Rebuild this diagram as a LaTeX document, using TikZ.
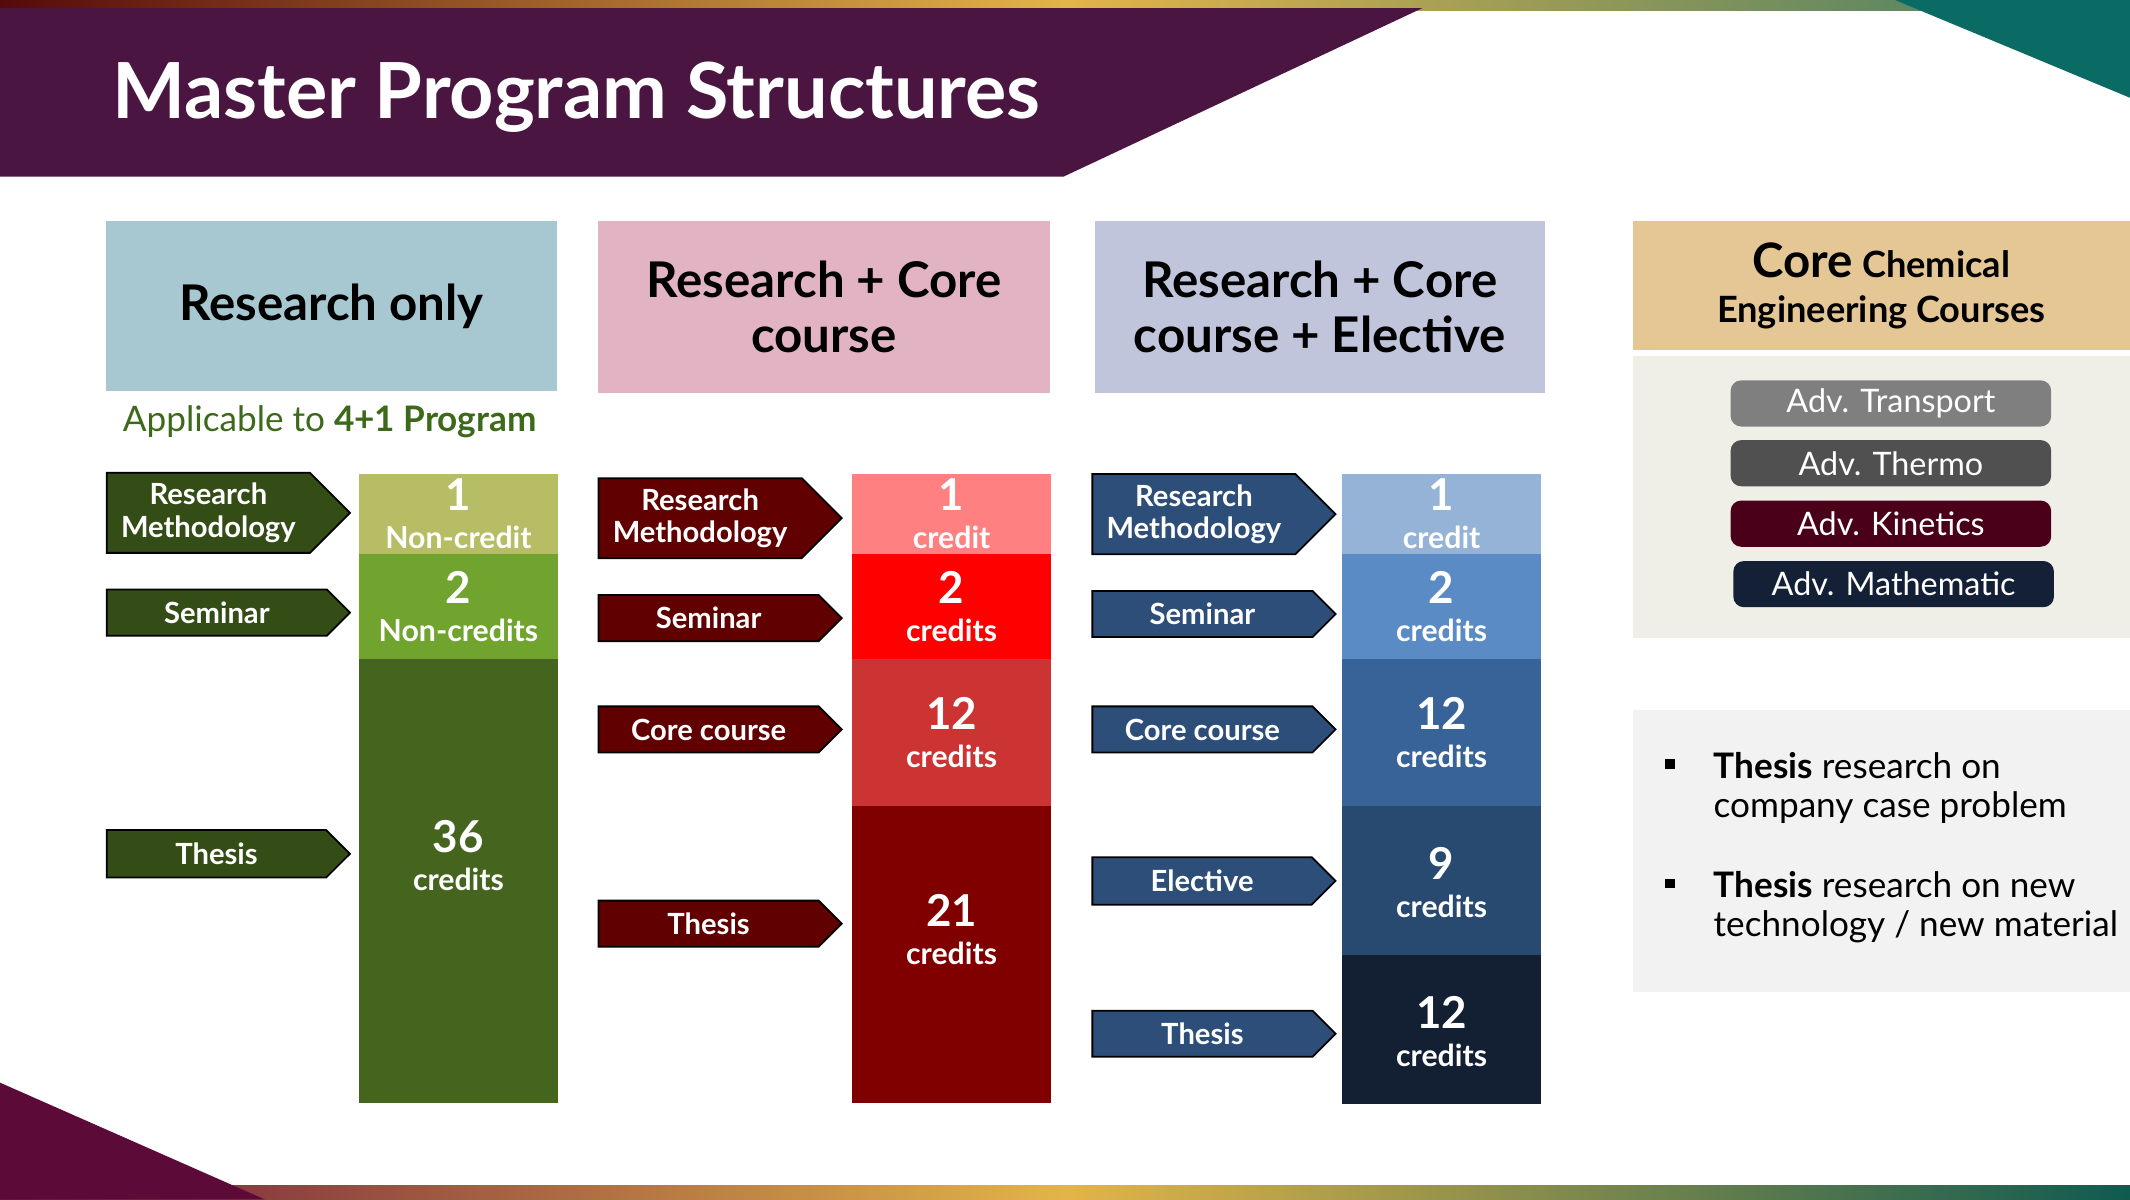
\documentclass[tikz,border=0pt]{standalone}
\usepackage{fontspec}
\setmainfont{Lato}
\usetikzlibrary{shapes.symbols}

\definecolor{topL}{HTML}{560A0A}
\definecolor{topM}{HTML}{E3B449}
\definecolor{topR}{HTML}{3E7C68}
\definecolor{botL}{HTML}{6E1A3C}
\definecolor{botM}{HTML}{E3B449}
\definecolor{botR}{HTML}{105A50}
\definecolor{bannerpurple}{HTML}{4A1540}
\definecolor{tealtri}{HTML}{0A6B64}
\definecolor{bottompurple}{HTML}{5C0A38}
\definecolor{headA}{HTML}{A7C7D1}
\definecolor{headB}{HTML}{E2B4C3}
\definecolor{headC}{HTML}{C0C5DC}
\definecolor{headD}{HTML}{E5C796}
\definecolor{panelD}{HTML}{F0EFE7}
\definecolor{panelE}{HTML}{F2F2F2}
\definecolor{applygreen}{HTML}{3D6A1A}
\definecolor{tagA}{HTML}{344C16}
\definecolor{tagB}{HTML}{600000}
\definecolor{tagC}{HTML}{2C4E78}
\definecolor{cellA1}{HTML}{B7BD65}
\definecolor{cellA2}{HTML}{71A32F}
\definecolor{cellA3}{HTML}{45651E}
\definecolor{cellB1}{HTML}{FF8080}
\definecolor{cellB2}{HTML}{FF0000}
\definecolor{cellB3}{HTML}{CC3333}
\definecolor{cellB4}{HTML}{800000}
\definecolor{cellC1}{HTML}{95B3D7}
\definecolor{cellC2}{HTML}{5B8BC4}
\definecolor{cellC3}{HTML}{376399}
\definecolor{cellC4}{HTML}{284970}
\definecolor{cellC5}{HTML}{132034}
\definecolor{pillA}{HTML}{7F7F7F}
\definecolor{pillB}{HTML}{505050}
\definecolor{pillC}{HTML}{4A0019}
\definecolor{pillD}{HTML}{142035}

\def\pxu{0.013584cm}

\begin{document}
\begin{tikzpicture}[x=0.013584cm, y=-0.013584cm,
    head/.style={rectangle, inner sep=0, align=center, font=\fontsize{14}{15.5}\selectfont\bfseries},
    tag/.style={signal, signal to=east, signal pointer angle=90, draw=black, line width=0.5pt,
        text=white, align=center, inner sep=0, minimum width=179*\pxu, anchor=west,
        font=\fontsize{8.3}{9.3}\selectfont\bfseries},
    credit/.style={text=white, align=center, inner sep=0, font=\fontsize{8.6}{10.8}\selectfont\bfseries},
    pill/.style={rectangle, rounded corners=3pt, text=white, minimum width=236*\pxu,
        minimum height=34*\pxu, inner sep=0, font=\fontsize{9.2}{10}\selectfont}]
    \useasboundingbox (0,0) rectangle (1568,883);
    % frame of the slide
    \shade[left color=topL, right color=topR, middle color=topM] (0,0) rectangle (1568,8);
    \fill[bannerpurple] (0,6) -- (1047,6) -- (783,130) -- (0,130) -- cycle;
    \fill[tealtri] (1395,0) -- (1568,0) -- (1568,72) -- cycle;
    \shade[left color=botL, right color=botR, middle color=botM] (0,873) rectangle (1568,883);
    \fill[bottompurple] (0,797) -- (195,883) -- (0,883) -- cycle;
    \node[anchor=base west, text=white, inner sep=0, font=\fontsize{22}{24}\selectfont\bfseries] (title) at (82,87) {Master Program Structures};

    % headers
    \node[head, fill=headA, minimum width=332*\pxu, minimum height=125*\pxu] (hA) at (244,225.5) {Research only};
    \node[head, fill=headB, minimum width=333*\pxu, minimum height=126*\pxu] (hB) at (606.5,226) {Research + Core\\course};
    \node[head, fill=headC, minimum width=331*\pxu, minimum height=126*\pxu] (hC) at (971.5,226) {Research + Core\\course + Elective};
    \node[head, fill=headD, minimum width=366*\pxu, minimum height=95*\pxu, font=\fontsize{10.3}{13}\selectfont\bfseries] (hD) at (1385,210.5) {{\fontsize{13.5}{13}\selectfont Core} Chemical\\Engineering Courses};
    \node[anchor=base west, inner sep=0, text=applygreen, font=\fontsize{10}{12}\selectfont] (apply) at (90,318) {Applicable to \textbf{4+1 Program}};

    % research only
    \foreach \n/\yc/\h/\txt in {1/377.5/59/{Research\\Methodology}, 2/451/34/Seminar, 3/628.5/35/Thesis}
        \node[tag, fill=tagA, minimum height=\h*\pxu] (gt\n) at (78,\yc) {\txt};
    \foreach \n/\ya/\yb/\col/\yt/\num/\word in {1/349/408/cellA1/378.5/1/Non-credit, 2/408/485/cellA2/446.5/2/Non-credits, 3/485/812/cellA3/629.5/36/credits}
    {
        \fill[\col] (264,\ya) rectangle (411,\yb);
        \node[credit] (gc\n) at (337.5,\yt) {{\fontsize{12.5}{10}\selectfont\num}\\\word};
    }

    % research + core course
    \foreach \n/\yc/\h/\txt in {1/381.5/59/{Research\\Methodology}, 2/455/34/Seminar, 3/537/34/Core course, 4/680/34/Thesis}
        \node[tag, fill=tagB, minimum height=\h*\pxu] (rt\n) at (440,\yc) {\txt};
    \foreach \n/\ya/\yb/\col/\yt/\num/\word in {1/349/408/cellB1/378.5/1/credit, 2/408/485/cellB2/446.5/2/credits, 3/485/593/cellB3/539.5/12/credits, 4/593/812/cellB4/684.5/21/credits}
    {
        \fill[\col] (627,\ya) rectangle (774,\yb);
        \node[credit] (rc\n) at (700.5,\yt) {{\fontsize{12.5}{10}\selectfont\num}\\\word};
    }

    % research + core course + elective
    \foreach \n/\yc/\h/\txt in {1/378.5/59/{Research\\Methodology}, 2/452/34/Seminar, 3/537/34/Core course, 4/648.5/35/Elective, 5/761/34/Thesis}
        \node[tag, fill=tagC, minimum height=\h*\pxu] (bt\n) at (803.5,\yc) {\txt};
    \foreach \n/\ya/\yb/\col/\yt/\num/\word in {1/349/408/cellC1/378.5/1/credit, 2/408/485/cellC2/446.5/2/credits, 3/485/593/cellC3/539.5/12/credits, 4/593/703/cellC4/649.5/9/credits, 5/703/813/cellC5/759.5/12/credits}
    {
        \fill[\col] (988,\ya) rectangle (1134.5,\yb);
        \node[credit] (bc\n) at (1061.25,\yt) {{\fontsize{12.5}{10}\selectfont\num}\\\word};
    }

    % core courses
    \fill[panelD] (1202,262) rectangle (1568,470);
    \node[pill, fill=pillA] (pA) at (1392,297) {Adv. Transport};
    \node[pill, fill=pillB] (pB) at (1392,341) {Adv. Thermo};
    \node[pill, fill=pillC] (pC) at (1392,385.5) {Adv. Kinetics};
    \node[pill, fill=pillD] (pD) at (1394,430) {Adv. Mathematic};

    % thesis topics
    \fill[panelE] (1202,523) rectangle (1568,730);
    \fill (1226,559) rectangle (1233,566);
    \fill (1226,647) rectangle (1233,654);
    \node[anchor=north west, align=left, inner sep=0, font=\fontsize{10}{11.2}\selectfont] (tA) at (1261,553) {\textbf{Thesis} research on\\company case problem};
    \node[anchor=north west, align=left, inner sep=0, font=\fontsize{10}{11.2}\selectfont] (tB) at (1261,641) {\textbf{Thesis} research on new\\technology / new material};
\end{tikzpicture}
\end{document}
